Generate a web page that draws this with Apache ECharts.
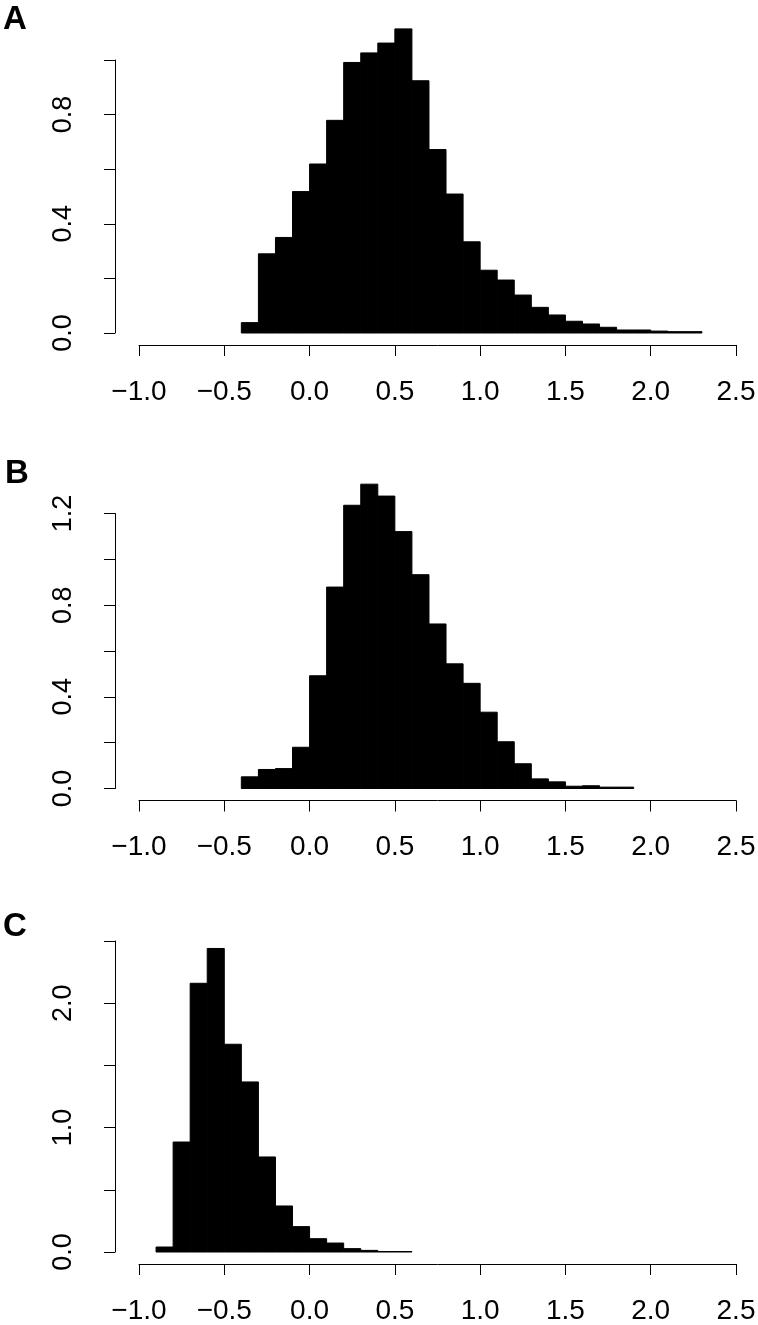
<!DOCTYPE html>
<html>
<head>
<meta charset="utf-8">
<script src="https://cdn.jsdelivr.net/npm/echarts/dist/echarts.min.js"></script>
<style>
html, body { margin: 0; padding: 0; background: #fff; }
#chart { width: 758px; height: 1325px; }
</style>
</head>
<body>
<div id="chart"></div>
<script>
// histogram densities, bin width 0.1
const binWidth = 0.1
const startA = -0.4
const densityA = [0.038, 0.29, 0.35, 0.518, 0.619, 0.779, 0.991, 1.026, 1.062, 1.114,
	0.924, 0.672, 0.509, 0.334, 0.23, 0.194, 0.139, 0.094, 0.066, 0.043,
	0.033, 0.021, 0.011, 0.011, 0.007, 0.005, 0.005]
const startB = -0.4
const densityB = [0.051, 0.083, 0.087, 0.18, 0.492, 0.879, 1.236, 1.328, 1.276, 1.121,
	0.933, 0.718, 0.544, 0.459, 0.333, 0.204, 0.108, 0.042, 0.029, 0.01,
	0.012, 0.006, 0.006]
const startC = -0.9
const densityC = [0.04, 0.884, 2.16, 2.44, 1.67, 1.367, 0.764, 0.37, 0.204, 0.107,
	0.072, 0.027, 0.013, 0.004, 0.004]

// tick labels
const xLabels = ['\u22121.0', '\u22120.5', '0.0', '0.5', '1.0', '1.5', '2.0', '2.5']
const yLabelsA = ['0.0', '', '0.4', '', '0.8', '']
const yLabelsB = ['0.0', '', '0.4', '', '0.8', '', '1.2']
const yLabelsC = ['0.0', '', '1.0', '', '2.0', '']
const panelLetters = ['A', 'B', 'C']

const font = '"Liberation Sans", Arial, Helvetica, sans-serif'

const toBins = (start, dens) => dens.map((d, i) => [start + i * binWidth, start + (i + 1) * binWidth, d])

const panels = [
	{ bins: toBins(startA, densityA), ymax: 1.0, yint: 0.2, ylabels: yLabelsA, top: 60, bottom: 992, letterTop: 3, letterLeft: 3 },
	{ bins: toBins(startB, densityB), ymax: 1.2, yint: 0.2, ylabels: yLabelsB, top: 513.5, bottom: 536.5, letterTop: 457, letterLeft: 5 },
	{ bins: toBins(startC, densityC), ymax: 2.5, yint: 0.5, ylabels: yLabelsC, top: 941, bottom: 73, letterTop: 910, letterLeft: 3 }
]

const chart = echarts.init(document.getElementById('chart'))

const option = {
	animation: false,
	backgroundColor: '#fff',
	title: panels.map((p, i) => ({
		text: panelLetters[i],
		left: p.letterLeft,
		top: p.letterTop,
		padding: 0,
		textStyle: { fontFamily: font, fontSize: 33, fontWeight: 'bold', color: '#000' }
	})),
	grid: panels.map((p) => ({
		left: 139,
		right: 22,
		top: p.top,
		bottom: p.bottom,
		outerBoundsMode: 'none',
		containLabel: false
	})),
	xAxis: panels.map((p, i) => ({
		type: 'value',
		gridIndex: i,
		min: -1,
		max: 2.5,
		interval: 0.5,
		offset: 12,
		axisLine: { show: true, onZero: false, lineStyle: { color: '#000', width: 1 } },
		axisTick: { show: true, length: 11, lineStyle: { color: '#000', width: 1 } },
		splitLine: { show: false },
		axisLabel: {
			show: true,
			margin: 33,
			fontSize: 28,
			color: '#000',
			fontFamily: font,
			showMinLabel: true,
			showMaxLabel: true,
			hideOverlap: false,
			formatter: (v) => xLabels[Math.round((v + 1) / 0.5)]
		}
	})),
	yAxis: panels.map((p, i) => ({
		type: 'value',
		gridIndex: i,
		min: 0,
		max: p.ymax,
		interval: p.yint,
		offset: 24,
		axisLine: { show: true, onZero: false, lineStyle: { color: '#000', width: 1 } },
		axisTick: { show: true, length: 11, lineStyle: { color: '#000', width: 1 } },
		splitLine: { show: false },
		axisLabel: {
			show: true,
			rotate: 90,
			margin: 38,
			fontSize: 27,
			color: '#000',
			fontFamily: font,
			showMinLabel: true,
			showMaxLabel: true,
			hideOverlap: false,
			formatter: (v) => p.ylabels[Math.round(v / p.yint)] || ''
		}
	})),
	series: panels.map((p, i) => ({
		type: 'custom',
		xAxisIndex: i,
		yAxisIndex: i,
		clip: false,
		encode: { x: [0, 1], y: 2 },
		data: p.bins,
		renderItem: (params, api) => {
			const topLeft = api.coord([api.value(0), api.value(2)])
			const bottomRight = api.coord([api.value(1), 0])
			return {
				type: 'rect',
				shape: {
					x: topLeft[0],
					y: topLeft[1],
					width: bottomRight[0] - topLeft[0],
					height: bottomRight[1] - topLeft[1]
				},
				style: { fill: '#000', stroke: '#000', lineWidth: 1 }
			}
		}
	}))
}

chart.setOption(option)
</script>
</body>
</html>
